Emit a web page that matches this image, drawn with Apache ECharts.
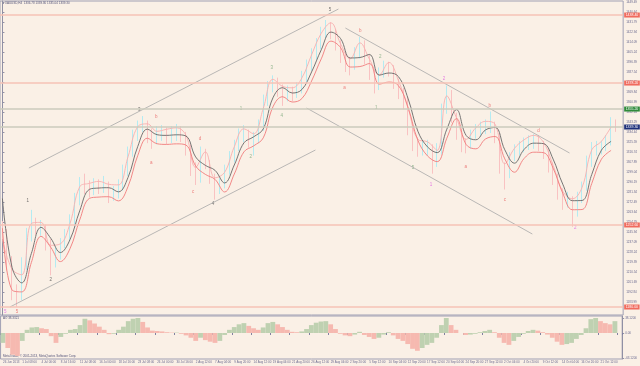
<!DOCTYPE html>
<html><head><meta charset="utf-8">
<script src="https://cdn.jsdelivr.net/npm/echarts@6/dist/echarts.min.js"></script>
<style>html,body{margin:0;padding:0;background:#faf0e6}#c{width:640px;height:366px}</style>
</head><body><div id="c"></div><script>
// ---- data (XAUUSD H4, each sample = 4 bars) ----
const timeLabels = ["26 Jun 2013","1 Jul 08:00","4 Jul 00:00","8 Jul 16:00","11 Jul 08:00","16 Jul 00:00","18 Jul 16:00","23 Jul 08:00","26 Jul 00:00","30 Jul 16:00","2 Aug 12:00","7 Aug 04:00","9 Aug 20:00","14 Aug 12:00","19 Aug 04:00","21 Aug 20:00","26 Aug 12:00","29 Aug 04:00","2 Sep 20:00","5 Sep 12:00","10 Sep 04:00","12 Sep 20:00","17 Sep 12:00","20 Sep 04:00","24 Sep 20:00","27 Sep 12:00","2 Oct 04:00","4 Oct 20:00","9 Oct 12:00","14 Oct 04:00","16 Oct 20:00","21 Oct 12:00"];
const firstOpen = 1252;
const closes = [1245.5,1221.6,1195.1,1189.7,1217.2,1242.8,1255.2,1249.9,1249.9,1236.6,1222.5,1226.0,1235.8,1242.8,1255.2,1274.7,1288.0,1285.3,1283.5,1287.1,1285.3,1288.9,1278.2,1280.0,1286.2,1299.5,1316.3,1330.5,1338.4,1342.8,1331.3,1328.7,1332.2,1334.0,1330.5,1332.2,1334.9,1332.2,1321.6,1303.9,1293.3,1317.2,1307.4,1295.1,1283.5,1288.0,1300.4,1311.9,1321.6,1331.3,1334.0,1327.8,1328.7,1339.3,1362.3,1373.8,1379.1,1372.0,1368.5,1369.4,1368.5,1372.9,1382.7,1393.3,1403.0,1411.9,1422.5,1429.6,1423.4,1413.6,1402.1,1395.1,1394.2,1403.9,1413.6,1401.3,1387.1,1374.7,1386.2,1392.4,1390.6,1379.1,1371.2,1362.3,1339.3,1326.0,1320.7,1320.7,1321.6,1308.3,1318.9,1354.4,1369.4,1349.9,1334.9,1324.3,1322.5,1331.3,1335.8,1338.4,1340.2,1341.1,1332.2,1305.7,1297.7,1311.9,1318.9,1321.6,1324.3,1326.0,1327.8,1324.3,1317.2,1305.7,1295.1,1281.8,1272.9,1275.6,1265.9,1276.5,1285.3,1308.3,1319.8,1321.6,1321.6,1326.0,1342.8,1339.3];
const highs = [1256,1249,1225,1200,1224,1250,1266,1259,1257,1253,1240,1233,1241,1249,1262,1281,1295,1298,1292,1294,1293,1296,1291,1287,1293,1306,1322,1337,1345,1349,1345,1338,1340,1341,1339,1340,1342,1340,1335,1324,1308,1322,1320,1310,1298,1294,1306,1318,1328,1338,1341,1337,1335,1346,1368,1380,1385,1383,1377,1376,1375,1379,1389,1399,1409,1418,1428,1434,1432,1426,1416,1405,1401,1410,1419,1416,1404,1390,1392,1398,1397,1394,1382,1374,1366,1342,1330,1328,1328,1324,1325,1360,1376,1372,1352,1337,1329,1337,1342,1344,1346,1353,1344,1334,1308,1317,1324,1327,1330,1332,1333,1332,1327,1320,1308,1298,1285,1282,1278,1282,1291,1314,1326,1327,1327,1332,1348,1346];
const lows = [1240,1212,1186,1180,1186,1213,1238,1244,1243,1230,1208,1215,1222,1232,1238,1250,1270,1280,1277,1279,1280,1281,1272,1274,1276,1283,1296,1313,1327,1335,1325,1320,1324,1327,1324,1325,1327,1326,1314,1296,1288,1290,1302,1289,1275,1280,1285,1297,1308,1318,1326,1321,1314,1325,1336,1358,1370,1366,1358,1362,1362,1365,1369,1379,1389,1399,1408,1418,1417,1407,1396,1388,1385,1390,1400,1395,1381,1369,1372,1383,1384,1373,1364,1355,1332,1318,1313,1314,1314,1298,1304,1315,1351,1343,1328,1317,1316,1320,1329,1332,1333,1334,1325,1298,1284,1294,1309,1314,1317,1319,1320,1318,1311,1299,1288,1275,1266,1268,1251,1260,1272,1283,1304,1314,1315,1318,1323,1335];
// moving-average lines, one value every 2 samples
const blackLine = [1276,1215,1201.4,1227.5,1250.5,1240.9,1228.2,1239.7,1265.1,1284.1,1285.3,1285.6,1281.9,1294.6,1321.9,1337.4,1332.5,1331.9,1332.4,1331.3,1312.8,1305.4,1301.0,1289.8,1305.7,1325.3,1330.6,1337.7,1365.1,1374.1,1369.4,1372.5,1388.0,1407.6,1423.3,1417.6,1400.4,1400.8,1403.5,1385.2,1387.1,1383.8,1364.2,1335.6,1321.7,1316.6,1337.4,1354.7,1331.8,1328.0,1336.7,1338.9,1319.1,1307.3,1319.5,1325.0,1324.6,1310.9,1288.7,1274.1,1274.3,1297.3,1318.8,1326.6];
const redLine = [1250,1195,1193.4,1219.5,1242.5,1232.9,1220.2,1231.7,1257.1,1276.1,1277.3,1277.6,1273.9,1286.6,1313.9,1329.4,1324.5,1323.9,1324.4,1323.3,1304.8,1297.4,1293.0,1281.8,1297.7,1317.3,1322.6,1329.7,1357.1,1366.1,1361.4,1364.5,1380.0,1399.6,1415.3,1409.6,1392.4,1392.8,1395.5,1377.2,1379.1,1375.8,1356.2,1327.6,1313.7,1308.6,1329.4,1346.7,1323.8,1320.0,1328.7,1330.9,1311.1,1299.3,1311.5,1317.0,1316.6,1302.9,1280.7,1266.1,1266.3,1289.3,1310.8,1318.6];
const pinkLine = [1240,1213.4,1208.5,1254,1254.9,1234.6,1235.9,1254,1286.4,1289.4,1291.2,1288.6,1288.1,1312.9,1339.5,1342.1,1335.5,1337.3,1338.6,1331.9,1303.6,1317.3,1294.3,1299.2,1321.8,1337.7,1333.3,1355.8,1381.5,1375.3,1374,1382.8,1403.2,1422.2,1431.5,1412.9,1399.7,1413.8,1399.2,1385.5,1396.5,1380.2,1355.8,1328.4,1326.2,1318.6,1366.9,1347.4,1328.4,1338.6,1344.3,1341.7,1306.7,1320.4,1328,1331.9,1325.8,1305.4,1282.4,1275.8,1285.9,1319.1,1326.6,1339.4];
const aoValues = [-25,-38,-55,-58,-20,8,14,15,12,10,-8,-25,-10,-2,8,10,20,36,32,24,16,8,-3,-2,8,16,30,36,38,28,14,6,5,4,2,1,1,-2,-6,-12,-20,-12,-18,-22,-25,-20,-5,8,15,22,25,18,12,8,14,25,28,22,15,8,3,2,4,10,20,26,29,30,22,10,-2,-6,-8,-4,3,-5,-10,-15,-12,-4,2,-6,-15,-20,-28,-40,-45,-38,-30,-25,-12,20,38,20,8,0,-5,-4,-2,2,5,8,2,-12,-25,-30,-20,-10,-2,5,8,6,2,-4,-12,-22,-30,-28,-25,-15,-5,12,35,38,30,25,22,30];
const levelPrices = [1438.40, 1378.20, 1355.20, 1339.30, 1252.60, 1180.00];
const levelKinds = ["pink","pink","gray","gray","pink","pink"];
const priceTicks = [1449.49,1440.64,1431.79,1422.94,1414.09,1405.24,1396.39,1387.54,1378.69,1369.84,1360.99,1352.14,1343.29,1334.44,1325.59,1316.74,1307.89,1299.04,1290.19,1281.34,1272.49,1263.64,1254.79,1245.94,1237.09,1228.24,1219.39,1210.54,1201.69,1192.84,1183.99];
const aoTicks = [38.12, 0, -63.12];
const trendLines = [
  [[5.48,1303.0],[69.56,1443.7]],
  [[1.56,1180.0],[64.8,1318.95]],
  [[71.0,1426.9],[117.4,1316.3]],
  [[62.97,1356.1],[109.7,1244.6]]
];
// wave marks: [sample index, price, text, kind]
const waveMarks = [
  [0.6,1176,"5","m"],[3.0,1176,"5","r"],[5.27,1273.8,"1","k"],[10.0,1203.9,"2","k"],[28.35,1354.4,"3","k"],
  [30.8,1307.4,"a","r"],[31.85,1348.2,"b","r"],[39.5,1281.8,"c","r"],[40.9,1328.7,"d","r"],[43.6,1271.2,"4","k"],
  [49.4,1355.2,"1","g"],[51.4,1312.8,"2","g"],[55.75,1391.5,"3","g"],[57.8,1349.0,"4","g"],[67.8,1442.9,"5","k"],
  [70.8,1373.8,"a","r"],[74.1,1424.3,"b","r"],[77.4,1356.0,"1","g"],[78.2,1401.3,"2","g"],[85.0,1303.0,"5","g"],
  [88.7,1288.0,"1","m"],[91.4,1381.8,"2","m"],[95.9,1303.9,"a","r"],[100.9,1357.9,"b","r"],[104.0,1274.7,"c","r"],
  [111.0,1335.8,"d","r"],[118.6,1249.9,"2","m"]
];

// ---- chart ----
const N = closes.length;
const cats = Array.from({length: N + 1}, (_, i) => String(i));
const font = "Liberation Sans";
const kindColor = {k:"#505050", r:"#e86060", g:"#78a878", m:"#e060e0"};
const candleData = closes.map((c, i) => [i ? closes[i-1] : firstOpen, c, lows[i], highs[i]]);
const lineData = arr => arr.map((v, k) => [2*k, v]);
const aoData = aoValues.map((v, i) => ({value: v, itemStyle: {color: (i === 0 || v >= aoValues[i-1]) ? "#bfd1b1" : "#f6b9b0"}}));
const levelColors = {pink: "#f6c3b6", gray: "#cbcbbd"};
const boxColors = ["#f06b5e","#f06b5e","#2f8a3a","#1d2f7a","#f06b5e","#f06b5e"];
const axisText = '#6a6a90';

const chart = echarts.init(document.getElementById('c'), null, {renderer: 'canvas'});
chart.setOption({
  animation: false,
  backgroundColor: '#faf0e6',
  textStyle: {fontFamily: font},
  grid: [
    {left: 0, top: 1, width: 626, height: 314, show: true, borderColor: '#a0a0b4', borderWidth: 1},
    {left: 0, top: 316, width: 626, height: 43, show: true, borderColor: '#a0a0b4', borderWidth: 1}
  ],
  xAxis: [
    {type: 'category', gridIndex: 0, data: cats, boundaryGap: true, axisLabel: {show: false}, axisTick: {show: false}, axisLine: {show: false}, splitLine: {show: false}},
    {type: 'value', gridIndex: 0, min: -0.5, max: N + 0.5, show: false},
    {type: 'category', gridIndex: 1, data: cats, boundaryGap: true,
      axisLine: {show: false},
      axisTick: {show: true, interval: 3, length: 2, lineStyle: {color: '#8080a0'}},
      axisLabel: {interval: 3, fontSize: 3, color: axisText, align: 'left', margin: 2, fontFamily: font,
        formatter: (v, idx) => timeLabels[idx / 4] || ''}}
  ],
  yAxis: [
    {type: 'value', gridIndex: 0, position: 'right', min: 1172.93, max: 1450.82, splitLine: {show: false},
      axisLine: {show: true, lineStyle: {color: '#9090a4'}},
      axisTick: {show: true, customValues: priceTicks, length: 2, lineStyle: {color: '#9090a4'}},
      axisLabel: {customValues: priceTicks, fontSize: 3, color: axisText, margin: 3, fontFamily: font, formatter: v => v.toFixed(2)}},
    {type: 'value', gridIndex: 1, position: 'right', min: -65.8, max: 43, splitLine: {show: false},
      axisLine: {show: true, lineStyle: {color: '#9090a4'}},
      axisTick: {show: true, customValues: aoTicks, length: 2, lineStyle: {color: '#9090a4'}},
      axisLabel: {customValues: aoTicks, fontSize: 3, color: axisText, margin: 3, fontFamily: font, formatter: v => v === 0 ? '0.00' : v.toFixed(4)}}
  ],
  series: [
    {type: 'candlestick', xAxisIndex: 0, yAxisIndex: 0, data: candleData, barWidth: 1,
      itemStyle: {color: '#b4ebf2', color0: '#f9c2c2', borderColor: '#b4ebf2', borderColor0: '#f9c2c2', borderWidth: 1},
      markLine: {silent: true, symbol: 'none', animation: false,
        data: levelPrices.map((p, i) => ({yAxis: p,
          lineStyle: {color: levelColors[levelKinds[i]], width: 1.5, type: 'solid'},
          label: {show: true, position: 'end', distance: 1, formatter: p.toFixed(2), fontSize: 3.5, color: '#ffffff',
            backgroundColor: boxColors[i], padding: [0.5, 1.5], fontFamily: font}}))}},
    {type: 'line', xAxisIndex: 1, yAxisIndex: 0, data: lineData(pinkLine), smooth: 0.4, symbol: 'none', lineStyle: {color: '#f7b0b0', width: 0.9}},
    {type: 'line', xAxisIndex: 1, yAxisIndex: 0, data: lineData(redLine), smooth: 0.4, symbol: 'none', lineStyle: {color: '#f07c7c', width: 0.9}},
    {type: 'line', xAxisIndex: 1, yAxisIndex: 0, data: lineData(blackLine), smooth: 0.4, symbol: 'none', lineStyle: {color: '#686868', width: 0.9}},
    ...trendLines.map(tl => ({type: 'line', xAxisIndex: 1, yAxisIndex: 0, data: tl, symbol: 'none', lineStyle: {color: '#a8a8a8', width: 0.8}})),
    {type: 'scatter', xAxisIndex: 1, yAxisIndex: 0, symbolSize: 0,
      data: waveMarks.map(w => ({value: [w[0], w[1]], label: {show: true, position: 'inside', formatter: w[2], color: kindColor[w[3]], fontSize: 4.5, fontFamily: font}}))},
    {type: 'bar', xAxisIndex: 2, yAxisIndex: 1, data: aoData, barCategoryGap: '0%'}
  ],
  graphic: [
    {type: 'text', left: 3, top: 2, style: {text: '\u25aa XAUUSD,H4  1336.78 1339.80 1335.04 1339.30', fontSize: 3, fill: '#55557a', fontFamily: font}},
    {type: 'text', left: 3, top: 317, style: {text: 'AO 38.3321', fontSize: 3, fill: '#55557a', fontFamily: font}},
    {type: 'text', left: 3, top: 355, style: {text: 'MetaTrader, \u00a9 2001-2013, MetaQuotes Software Corp.', fontSize: 3, fill: '#55557a', fontFamily: font}}
  ]
});
</script></body></html>
